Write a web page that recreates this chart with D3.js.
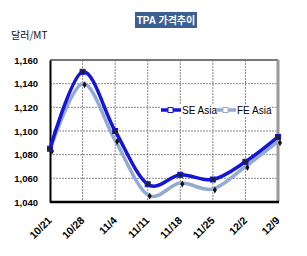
<!DOCTYPE html>
<html>
<head>
<meta charset="utf-8">
<script src="https://cdn.jsdelivr.net/npm/d3@7"></script>
<style>
  body { margin: 0; background: #fff; }
  svg text { font-family: "Liberation Sans", Arial, "Noto Sans CJK KR", sans-serif; }
</style>
</head>
<body>
<div id="chart"></div>
<script>
// Data
let categories = ['10/21', '10/28', '11/4', '11/11', '11/18', '11/25', '12/2', '12/9'];
let seAsia = [1085, 1150, 1100, 1055, 1063, 1059, 1074, 1095];
let feAsia = [1084, 1140, 1092, 1046, 1056, 1051, 1070, 1091];
let yTicks = [1040, 1060, 1080, 1100, 1120, 1140, 1160];

// Set dimensions and margins
let margin = { top: 60, right: 29, bottom: 54, left: 50 },
    width = 307 - margin.left - margin.right,
    height = 256 - margin.top - margin.bottom;

let x = d3.scalePoint().domain(categories).range([0, 228]);
let y = d3.scaleLinear().domain([1040, 1160]).range([height, 0]);

let svg = d3.select('#chart')
    .append('svg')
    .attr('width', 307)
    .attr('height', 256);

// Title
let title = svg.append('g').attr('transform', 'translate(166,20)');
title.append('rect')
    .attr('x', -31).attr('y', -8)
    .attr('width', 62).attr('height', 16)
    .attr('fill', '#3c5f92');
title.append('text')
    .attr('text-anchor', 'middle')
    .attr('dy', '0.35em')
    .attr('fill', '#fff')
    .attr('font-size', 10)
    .attr('font-weight', 'bold')
    .text('TPA 가격추이');

// Unit label
svg.append('text')
    .attr('x', 11).attr('y', 39)
    .attr('font-size', 10)
    .attr('fill', '#111')
    .style('font-family', '"Noto Sans CJK KR", sans-serif')
    .text('달러/MT');

let g = svg.append('g')
    .attr('transform', 'translate(' + margin.left + ',' + margin.top + ')');

// Grid lines
g.selectAll('.hgrid')
    .data(yTicks.slice(1))
    .enter().append('line')
    .attr('x1', 0).attr('x2', width)
    .attr('y1', d => y(d)).attr('y2', d => y(d))
    .attr('stroke', '#888')
    .attr('stroke-width', 1)
    .attr('stroke-dasharray', '2,1');

g.selectAll('.vgrid')
    .data(categories.slice(1))
    .enter().append('line')
    .attr('x1', d => x(d)).attr('x2', d => x(d))
    .attr('y1', 0).attr('y2', height)
    .attr('stroke', '#888')
    .attr('stroke-width', 1)
    .attr('stroke-dasharray', '2,1');

// Plot frame: gray top/right, black left/bottom
g.append('line').attr('x1', 0).attr('x2', width).attr('y1', 0).attr('y2', 0)
    .attr('stroke', '#777').attr('stroke-width', 2);
g.append('line').attr('x1', width).attr('x2', width).attr('y1', 0).attr('y2', height)
    .attr('stroke', '#999').attr('stroke-width', 3);

// Y axis
let yAxis = g.append('g')
    .call(d3.axisLeft(y).tickValues(yTicks).tickFormat(d3.format(',')).tickSize(0).tickPadding(12));
yAxis.select('.domain').attr('stroke', '#000').attr('stroke-width', 2);
yAxis.selectAll('text')
    .attr('font-size', 9.5)
    .attr('font-weight', 'bold')
    .attr('fill', '#000')
    .style('font-family', '"Liberation Sans", Arial, sans-serif');

// X axis
let xAxis = g.append('g')
    .attr('transform', 'translate(0,' + height + ')')
    .call(d3.axisBottom(x).tickSize(0).tickPadding(0));
xAxis.select('.domain').attr('d', 'M0,0H' + (width + 1)).attr('stroke', '#000').attr('stroke-width', 2.5);
xAxis.selectAll('text')
    .attr('font-size', 10.5)
    .attr('font-weight', 'bold')
    .attr('fill', '#000')
    .style('font-family', '"Liberation Sans", Arial, sans-serif')
    .attr('text-anchor', 'end')
    .attr('dy', '0')
    .attr('transform', 'translate(2,19) rotate(-45)');

// Lines
let line = d3.line()
    .x((d, i) => x(categories[i]))
    .y(d => y(d))
    .curve(d3.curveCardinal.tension(0));

g.append('path')
    .datum(feAsia)
    .attr('fill', 'none')
    .attr('stroke', '#93aad2')
    .attr('stroke-width', 3.5)
    .attr('d', line);

g.append('path')
    .datum(seAsia)
    .attr('fill', 'none')
    .attr('stroke', '#1515d8')
    .attr('stroke-width', 3.5)
    .attr('d', line);

// Markers
g.selectAll('.fe-mark')
    .data(feAsia)
    .enter().append('path')
    .attr('d', d3.symbol().type(d3.symbolDiamond).size(14))
    .attr('transform', (d, i) => 'translate(' + (x(categories[i]) + 2) + ',' + (y(d) + 1) + ')')
    .attr('fill', '#111');

g.selectAll('.se-mark')
    .data(seAsia)
    .enter().append('rect')
    .attr('x', (d, i) => x(categories[i]) - 2.5)
    .attr('y', d => y(d) - 2.5)
    .attr('width', 5).attr('height', 5)
    .attr('fill', '#222')
    .attr('stroke', '#1515d8')
    .attr('stroke-width', 1);

// Legend
let legend = g.append('g').attr('transform', 'translate(110,50)');
legend.append('rect')
    .attr('x', 0).attr('y', -6)
    .attr('width', 108).attr('height', 12)
    .attr('fill', '#fff');

let items = [
    { name: 'SE Asia', color: '#1515d8', x: 1 },
    { name: 'FE Asia', color: '#93aad2', x: 56 }
];
items.forEach(function (it) {
    legend.append('line')
        .attr('x1', it.x).attr('x2', it.x + 20)
        .attr('y1', 0).attr('y2', 0)
        .attr('stroke', it.color)
        .attr('stroke-width', 3.5);
    legend.append('rect')
        .attr('x', it.x + 7).attr('y', -2.5)
        .attr('width', 5).attr('height', 5)
        .attr('fill', '#fff')
        .attr('stroke', it.color)
        .attr('stroke-width', 1);
    legend.append('text')
        .attr('x', it.x + 21).attr('y', 0)
        .attr('dy', '0.35em')
        .attr('font-size', 10)
        .attr('fill', '#000')
        .text(it.name);
});
</script>
</body>
</html>
